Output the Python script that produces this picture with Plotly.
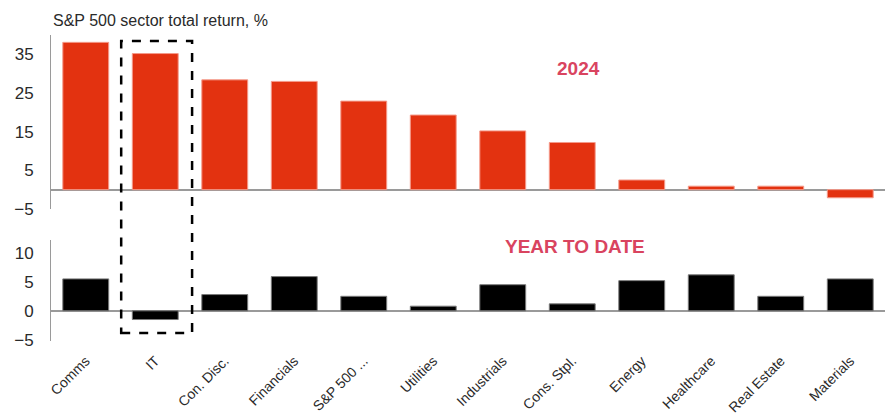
import plotly.graph_objects as go
from plotly.subplots import make_subplots

sectors = ["Comms", "IT", "Con. Disc.", "Financials", "S&P 500 ...", "Utilities",
           "Industrials", "Cons. Stpl.", "Energy", "Healthcare", "Real Estate", "Materials"]
return_2024 = [38.1, 35.2, 28.4, 28.0, 22.9, 19.3, 15.2, 12.2, 2.5, 0.9, 0.9, -2.1]
return_ytd = [5.5, -1.5, 2.8, 5.9, 2.5, 0.8, 4.5, 1.2, 5.2, 6.2, 2.5, 5.5]

highlight = "IT"
label_color = "#D9445F"
axis_gray = "#9a9a9a"
font_family = "Liberation Sans, Arial, sans-serif"

fig = make_subplots(rows=2, cols=1, shared_xaxes=True, vertical_spacing=0.0)

fig.add_trace(go.Bar(x=sectors, y=return_2024, marker=dict(color="#E33210",
                     line=dict(color="#F49A8A", width=1)), showlegend=False), row=1, col=1)
fig.add_trace(go.Bar(x=sectors, y=return_ytd, marker=dict(color="#000000",
                     line=dict(color="#7a7a7a", width=1)), showlegend=False), row=2, col=1)

fig.update_layout(
    width=889, height=416,
    margin=dict(l=51, r=4, t=35, b=75, autoexpand=False),
    paper_bgcolor="white", plot_bgcolor="white",
    bargap=0.34,
    font=dict(family=font_family, color="#2a2a2a"),
    yaxis=dict(domain=[0.4314, 1.0], range=[-5, 40], tickvals=[-5, 5, 15, 25, 35],
               showgrid=False, zeroline=True, zerolinecolor=axis_gray, zerolinewidth=1.5,
               showline=True, linecolor=axis_gray, linewidth=1, ticks="",
               tickfont=dict(size=17), ticklabelstandoff=13),
    yaxis2=dict(domain=[0.0, 0.330], range=[-5.2, 12.2], tickvals=[-5, 0, 5, 10],
                showgrid=False, zeroline=True, zerolinecolor=axis_gray, zerolinewidth=1.5,
                showline=True, linecolor=axis_gray, linewidth=1, ticks="",
                tickfont=dict(size=17), ticklabelstandoff=13),
)
fig.update_xaxes(showgrid=False, showline=False, ticks="", automargin=False,
                 row=1, col=1, showticklabels=False)
fig.update_xaxes(showgrid=False, showline=False, ticks="", tickangle=-45, automargin=False,
                 tickfont=dict(size=14), ticklabelstandoff=8, row=2, col=1)

# Dashed frame around the highlighted sector across both panels
idx = sectors.index(highlight)
fig.add_shape(type="rect", xref="x2", yref="paper",
              x0=idx - 0.49, x1=idx + 0.53, y0=0.026, y1=0.980,
              line=dict(color="black", width=2.5, dash="dash"), fillcolor="rgba(0,0,0,0)")

fig.add_annotation(text="S&P 500 sector total return, %", xref="paper", yref="paper",
                   x=0.0, y=1.046, xanchor="left", yanchor="middle", showarrow=False,
                   font=dict(size=16, color="#2a2a2a"))
fig.add_annotation(text="<b>2024</b>", xref="paper", yref="paper", x=0.633, y=0.892,
                   xanchor="center", yanchor="middle",
                   showarrow=False, font=dict(size=19, color=label_color))
fig.add_annotation(text="<b>YEAR TO DATE</b>", xref="paper", yref="paper", x=0.628, y=0.310,
                   xanchor="center", yanchor="middle",
                   showarrow=False, font=dict(size=19, color=label_color))

fig.write_html("out.html")
